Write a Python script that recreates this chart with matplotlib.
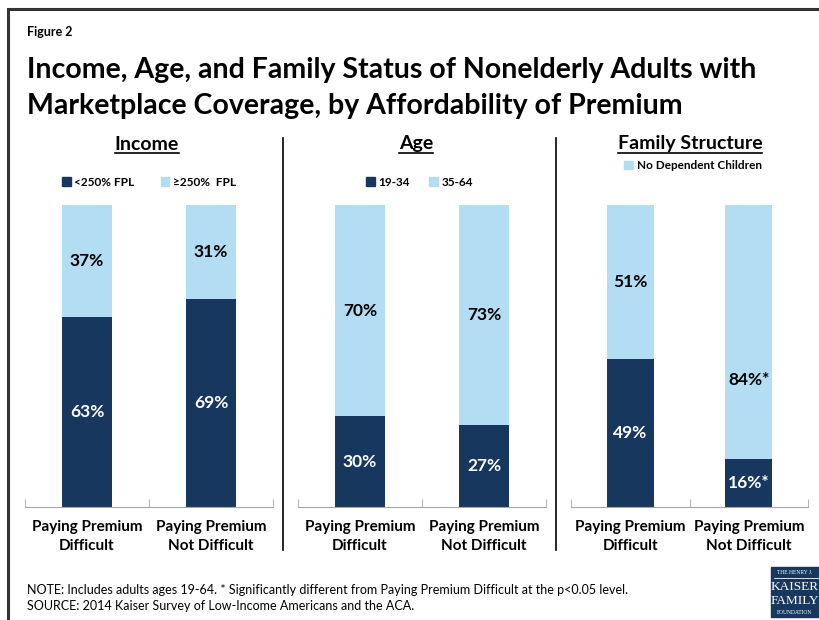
import matplotlib.pyplot as plt
from matplotlib.lines import Line2D
from matplotlib.patches import Patch, Rectangle

plt.rcParams["font.family"] = ["Lato", "DejaVu Sans"]

DARK = "#17375E"
LIGHT = "#B3DDF2"

categories = ["Paying Premium\nDifficult", "Paying Premium\nNot Difficult"]

income_low = [63, 69]
income_high = [37, 31]
age_young = [30, 27]
age_old = [70, 73]
family_kids = [49, 16]
family_nokids = [51, 84]
family_stars = ["", "*"]

W, H = 819, 620
fig = plt.figure(figsize=(W / 100, H / 100), dpi=100)


def fx(px):
    return px / W


def fy(py):
    return 1 - py / H


def panel(x0, x1, bottom, top, star=("", ""), top_pos=None):
    ax = fig.add_axes([fx(x0), fy(507), fx(x1 - x0), (507 - 205) / H])
    x = [0, 1]
    ax.bar(x, bottom, width=0.4, color=DARK)
    ax.bar(x, top, width=0.4, bottom=bottom, color=LIGHT)
    for i in x:
        ax.text(i, bottom[i] / 2, f"{bottom[i]}%{star[i]}", ha="center", va="center",
                color="white", fontsize=12.5, fontweight="bold")
        ty = bottom[i] + top[i] / 2
        if top_pos is not None and top_pos[i] is not None:
            ty = top_pos[i]
        ax.text(i, ty, f"{top[i]}%{star[i]}", ha="center", va="center",
                color="black", fontsize=12.5, fontweight="bold")
    ax.set_xlim(-0.5, 1.5)
    ax.set_ylim(0, 100)
    for s in ["top", "left", "right"]:
        ax.spines[s].set_visible(False)
    ax.spines["bottom"].set_color("#A6A6A6")
    ax.set_yticks([])
    ax.set_xticks(x)
    ax.set_xticklabels(categories, fontsize=11, fontweight="bold")
    ax.tick_params(axis="x", length=0, pad=9)
    ax.set_xticks([-0.5, 0.5, 1.5], minor=True)
    ax.tick_params(axis="x", which="minor", direction="in", length=6, color="#A6A6A6")
    for lbl in ax.get_xticklabels():
        lbl.set_linespacing(1.5)
    return ax


ax1 = panel(25, 273, income_low, income_high)
ax2 = panel(298, 546, age_young, age_old)
ax3 = panel(571, 808, family_kids, family_nokids, star=family_stars, top_pos=[None, 42])

sq = dict(handlelength=0.75, handleheight=0.75, handletextpad=0.3, frameon=False,
          borderaxespad=0, prop={"size": 8.5, "weight": "bold"})
ax1.legend([Patch(color=DARK), Patch(color=LIGHT)], ["<250% FPL", "\u2265250%  FPL"],
           ncol=2, columnspacing=2.2, loc="center", bbox_to_anchor=(0.5, 1.075), **sq)
ax2.legend([Patch(color=DARK), Patch(color=LIGHT)], ["19-34", "35-64"],
           ncol=2, columnspacing=1.6, loc="center", bbox_to_anchor=(0.49, 1.075), **sq)
ax3.legend([Patch(color=LIGHT)], ["No Dependent Children"],
           loc="center", bbox_to_anchor=(0.515, 1.13), **sq)

# panel titles, underlined
titles = [("Income", 147), ("Age", 416), ("Family Structure", 690)]
fig.canvas.draw()
rend = fig.canvas.get_renderer()
for name, cx in titles:
    t = fig.text(fx(cx), fy(144), name, ha="center", va="center", fontsize=14, fontweight="bold")
    bb = t.get_window_extent(rend)
    uy = fy(153)
    fig.add_artist(Line2D([bb.x0 / W, bb.x1 / W], [uy, uy], color="black", lw=1.2))

# vertical separators
for sx in [283, 556]:
    fig.add_artist(Line2D([fx(sx), fx(sx)], [fy(138), fy(550)], color="black", lw=1.2))

# outer frame
fig.add_artist(Rectangle((fx(8), -0.05), 1.2, fy(9) + 0.05, fill=False,
                         edgecolor="#333333", lw=2.2))

fig.text(fx(27), fy(32), "Figure 2", fontsize=9, fontweight="bold", va="center")
fig.text(fx(27), fy(88),
         "Income, Age, and Family Status of Nonelderly Adults with\n"
         "Marketplace Coverage, by Affordability of Premium",
         fontsize=20.5, fontweight="bold", va="center", linespacing=1.45)

fig.text(fx(27), fy(590),
         "NOTE: Includes adults ages 19-64. * Significantly different from Paying Premium "
         "Difficult at the p<0.05 level.", fontsize=9, va="center")
fig.text(fx(27), fy(606), "SOURCE: 2014 Kaiser Survey of Low-Income Americans and the ACA.",
         fontsize=9, va="center")

# logo
fig.add_artist(Rectangle((fx(771), fy(617)), fx(60), (617 - 567) / H, color=DARK))
serif = ["Liberation Serif"]
fig.text(fx(795), fy(573), "THE HENRY J.", color="white", fontsize=4, ha="center",
         va="center", family=serif)
fig.add_artist(Line2D([fx(774), fx(819)], [fy(578), fy(578)], color="white", lw=0.6))
fig.text(fx(795), fy(587), "KAISER", color="white", fontsize=9.5, ha="center", va="center",
         family=serif)
fig.text(fx(795), fy(601), "FAMILY", color="white", fontsize=9.5, ha="center", va="center",
         family=serif)
fig.text(fx(795), fy(613), "FOUNDATION", color="white", fontsize=4, ha="center",
         va="center", family=serif)

fig.savefig("out.png", dpi=100)
